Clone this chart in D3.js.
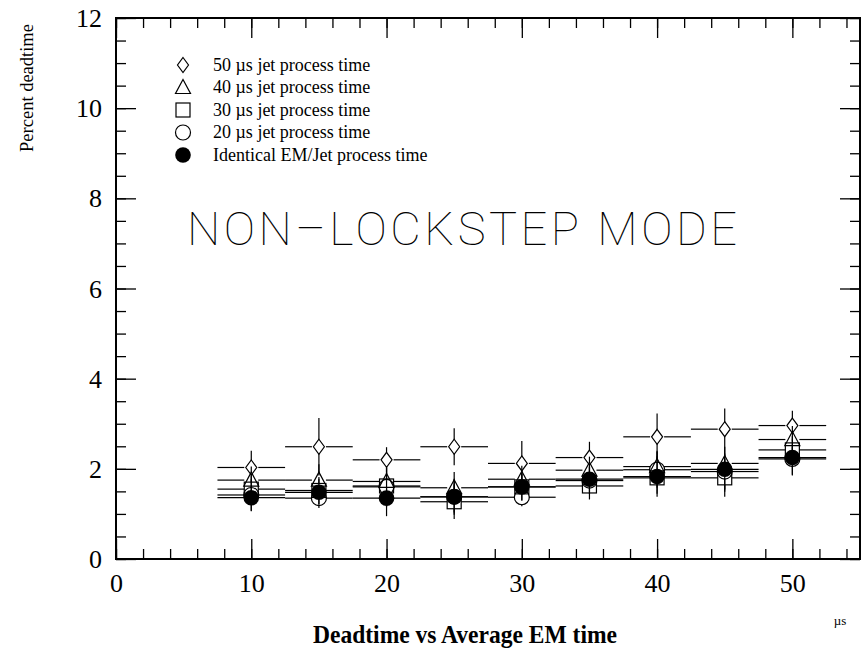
<!DOCTYPE html>
<html>
<head>
<meta charset="utf-8">
<script src="https://cdn.jsdelivr.net/npm/d3@7"></script>
<style>
  body { margin: 0; background: #fff; }
  svg { display: block; }
  text { font-family: "Liberation Serif", "Times New Roman", serif; fill: #000; }
</style>
</head>
<body>
<div id="chart"></div>
<script>
// x positions (average EM time, µs)
const emTime = [10, 15, 20, 25, 30, 35, 40, 45, 50];
const binHalf = 2.5;

// percent deadtime per series
const jet50 = [2.03, 2.49, 2.20, 2.49, 2.12, 2.25, 2.71, 2.88, 2.96];
const jet50Err = [0.37, 0.64, 0.28, 0.41, 0.50, 0.35, 0.52, 0.46, 0.33];
const jet40 = [1.75, 1.75, 1.72, 1.58, 1.77, 1.97, 2.05, 2.12, 2.65];
const jet40Err = [0.30, 0.35, 0.30, 0.35, 0.30, 0.30, 0.35, 0.30, 0.30];
const jet30 = [1.55, 1.52, 1.62, 1.27, 1.60, 1.62, 1.80, 1.80, 2.42];
const jet30Err = [0.30, 0.30, 0.30, 0.38, 0.30, 0.30, 0.35, 0.42, 0.30];
const jet20 = [1.42, 1.35, 1.60, 1.38, 1.37, 1.74, 1.98, 1.94, 2.22];
const jet20Err = [0.35, 0.22, 0.45, 0.40, 0.20, 0.30, 0.40, 0.40, 0.35];
const identical = [1.36, 1.48, 1.35, 1.38, 1.60, 1.77, 1.83, 1.99, 2.25];
const identicalErr = [0.30, 0.30, 0.40, 0.35, 0.30, 0.30, 0.45, 0.50, 0.40];

const legendLabels = [
  "50 \u00b5s jet process time",
  "40 \u00b5s jet process time",
  "30 \u00b5s jet process time",
  "20 \u00b5s jet process time",
  "Identical EM/Jet process time"
];

const series = [
  { values: jet50, errs: jet50Err, marker: "diamond" },
  { values: jet40, errs: jet40Err, marker: "triangle" },
  { values: jet30, errs: jet30Err, marker: "square" },
  { values: jet20, errs: jet20Err, marker: "circle" },
  { values: identical, errs: identicalErr, marker: "dot" }
];

const width = 863, height = 651;
const svg = d3.select("#chart").append("svg")
  .attr("width", width).attr("height", height);

const x = d3.scaleLinear().domain([0, 55]).range([116, 860]);
const y = d3.scaleLinear().domain([0, 12]).range([559, 18]);

// ticks (inward on all four sides)
const minorX = d3.range(0, 56, 2), majorX = d3.range(0, 51, 10);
const minorY = d3.range(0, 12.01, 0.5), majorY = d3.range(0, 12.01, 2);

function tickAxis(axis, tr, vals, size, labels) {
  const g = svg.append("g").attr("transform", tr)
    .call(axis.tickValues(vals).tickSize(size).tickSizeOuter(0).tickFormat(labels ? d3.format("d") : ""));
  g.attr("font-family", null).attr("font-size", null);
  g.select(".domain").remove();
  g.selectAll(".tick line").attr("stroke", "#000").attr("stroke-width", 1.3);
  return g;
}
tickAxis(d3.axisBottom(x), `translate(0,${y(0)})`, minorX, -10);
tickAxis(d3.axisTop(x), `translate(0,${y(12)})`, minorX, -10);
tickAxis(d3.axisLeft(y), `translate(${x(0)},0)`, minorY, -10);
tickAxis(d3.axisRight(y), `translate(${x(55)},0)`, minorY, -10);
tickAxis(d3.axisTop(x), `translate(0,${y(12)})`, majorX, -20);
tickAxis(d3.axisRight(y), `translate(${x(55)},0)`, majorY, -20);

const xb = tickAxis(d3.axisBottom(x), `translate(0,${y(0)})`, majorX, -20, true);
xb.selectAll(".tick text").attr("y", 33).attr("dy", 0)
  .attr("fill", "#000").attr("font-family", "Liberation Serif").style("font-size", "26px");
const yl = tickAxis(d3.axisLeft(y), `translate(${x(0)},0)`, majorY, -20, true);
yl.selectAll(".tick text").attr("x", -14).attr("dy", "0.33em")
  .attr("fill", "#000").attr("font-family", "Liberation Serif").style("font-size", "26px");

// frame
svg.append("rect")
  .attr("x", x(0)).attr("y", y(12))
  .attr("width", x(55) - x(0)).attr("height", y(0) - y(12))
  .attr("fill", "none").attr("stroke", "#000").attr("stroke-width", 2);

// marker shapes
const half = 7;
function drawMarker(g, type, cx, cy) {
  if (type === "diamond") {
    g.append("path").attr("d", `M${cx},${cy - 7.5}L${cx + 5.5},${cy}L${cx},${cy + 7.5}L${cx - 5.5},${cy}Z`)
      .attr("fill", "none").attr("stroke", "#000").attr("stroke-width", 1.2);
  } else if (type === "triangle") {
    g.append("path").attr("d", `M${cx},${cy - 8}L${cx + 7.5},${cy + 6}L${cx - 7.5},${cy + 6}Z`)
      .attr("fill", "none").attr("stroke", "#000").attr("stroke-width", 1.2);
  } else if (type === "square") {
    g.append("rect").attr("x", cx - 7).attr("y", cy - 7).attr("width", 14).attr("height", 14)
      .attr("fill", "none").attr("stroke", "#000").attr("stroke-width", 1.2);
  } else if (type === "circle") {
    g.append("circle").attr("cx", cx).attr("cy", cy).attr("r", 7.5)
      .attr("fill", "none").attr("stroke", "#000").attr("stroke-width", 1.2);
  } else {
    g.append("circle").attr("cx", cx).attr("cy", cy).attr("r", 7.8).attr("fill", "#000");
  }
}

const plot = svg.append("g");
series.forEach(s => {
  const g = plot.append("g");
  emTime.forEach((t, i) => {
    const cx = x(t), cy = y(s.values[i]);
    const gap = s.marker === "dot" ? 0 : half;
    const segs = [
      [x(t - binHalf), cy, cx - gap, cy],
      [cx + gap, cy, x(t + binHalf), cy],
      [cx, y(s.values[i] + s.errs[i]), cx, cy - gap],
      [cx, cy + gap, cx, y(s.values[i] - s.errs[i])]
    ];
    segs.forEach(d => g.append("line")
      .attr("x1", d[0]).attr("y1", d[1]).attr("x2", d[2]).attr("y2", d[3])
      .attr("stroke", "#000").attr("stroke-width", 1.2));
  });
});
series.forEach(s => {
  const g = plot.append("g");
  emTime.forEach((t, i) => drawMarker(g, s.marker, x(t), y(s.values[i])));
});

// legend
const legend = svg.append("g");
legendLabels.forEach((lab, i) => {
  const ly = 65 + i * 22.5;
  drawMarker(legend, series[i].marker, 183, ly);
  legend.append("text").attr("x", 213).attr("y", ly).attr("dy", "0.33em")
    .style("font-size", "18px").text(lab);
});

// annotation
svg.append("text")
  .attr("x", 187).attr("y", 245)
  .attr("textLength", 550).attr("lengthAdjust", "spacing")
  .style("font-family", "Roboto, 'DejaVu Sans', sans-serif").style("font-weight", 100)
  .style("font-size", "47px")
  .text("NON\u2013LOCKSTEP MODE");

// axis titles
svg.append("text")
  .attr("transform", "translate(33,88) rotate(-90)")
  .attr("text-anchor", "middle")
  .style("font-size", "18.5px").text("Percent deadtime");

svg.append("text")
  .attr("x", 465).attr("y", 643).attr("text-anchor", "middle")
  .attr("textLength", 304).attr("lengthAdjust", "spacingAndGlyphs")
  .style("font-size", "25px").style("font-weight", "bold").text("Deadtime vs Average EM time");

svg.append("text")
  .attr("x", 840).attr("y", 625).attr("text-anchor", "middle")
  .style("font-size", "13px").text("\u00b5s");
</script>
</body>
</html>
